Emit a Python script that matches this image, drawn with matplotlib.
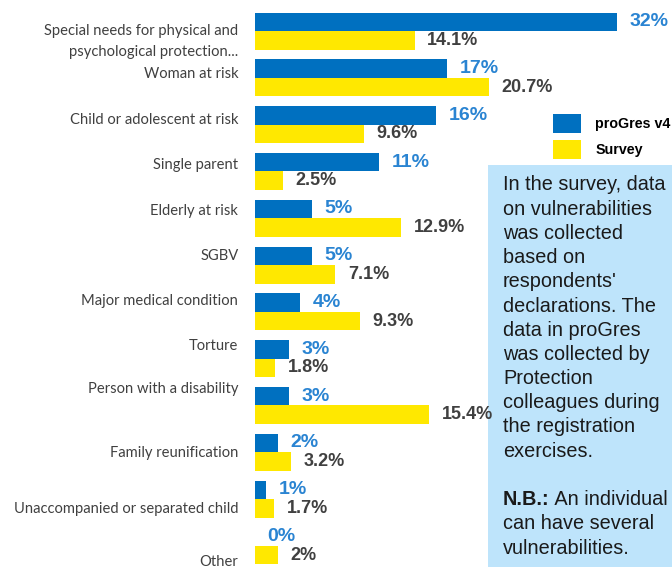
import numpy as np
import matplotlib
matplotlib.use("Agg")
import matplotlib.pyplot as plt
from matplotlib.patches import Rectangle

# Data
categories = [
    "Special needs for physical and\npsychological protection...",
    "Woman at risk",
    "Child or adolescent at risk",
    "Single parent",
    "Elderly at risk",
    "SGBV",
    "Major medical condition",
    "Torture",
    "Person with a disability",
    "Family reunification",
    "Unaccompanied or separated child",
    "Other",
]
progres = [32, 17, 16, 11, 5, 5, 4, 3, 3, 2, 1, 0]
survey = [14.1, 20.7, 9.6, 2.5, 12.9, 7.1, 9.3, 1.8, 15.4, 3.2, 1.7, 2]
progres_labels = ["32%", "17%", "16%", "11%", "5%", "5%", "4%", "3%", "3%", "2%", "1%", "0%"]
survey_labels = ["14.1%", "20.7%", "9.6%", "2.5%", "12.9%", "7.1%", "9.3%", "1.8%",
                 "15.4%", "3.2%", "1.7%", "2%"]

note_lines = [
    "In the survey, data",
    "on vulnerabilities",
    "was collected",
    "based on",
    "respondents'",
    "declarations. The",
    "data in proGres",
    "was collected by",
    "Protection",
    "colleagues during",
    "the registration",
    "exercises.",
]
note_tail = ["can have several", "vulnerabilities."]

blue = "#0070C0"
yellow = "#FFE800"
blue_text = "#2A84D2"
grey_text = "#404040"
note_color = "#1A1A1A"

W, H = 672, 567
fig = plt.figure(figsize=(W / 100, H / 100), dpi=100)

# light blue note box on the right
fig.patches.append(Rectangle((488 / W, 0), 1, (H - 165) / H, transform=fig.transFigure,
                             facecolor="#BEE4FB", edgecolor="none", zorder=0))

ax = fig.add_axes([255 / W, 0, (W - 255) / W, 1], zorder=1)
ax.patch.set_alpha(0)
step = 46.8
y = np.arange(len(categories))
h = 18.5 / step

ax.barh(y - h / 2, progres, height=h, color=blue, label="proGres v4")
ax.barh(y + h / 2, survey, height=h, color=yellow, label="Survey")

for i in range(len(categories)):
    ax.annotate(progres_labels[i], (progres[i], y[i] - h / 2), xytext=(9, 0),
                textcoords="offset points", va="center", ha="left",
                fontsize=14, fontweight="bold", color=blue_text,
                family="Liberation Sans")
    ax.annotate(survey_labels[i], (survey[i], y[i] + h / 2), xytext=(9, 0),
                textcoords="offset points", va="center", ha="left",
                fontsize=13, fontweight="bold", color=grey_text,
                family="Liberation Sans")

ax.set_xlim(0, 32 * (W - 255) / 362)
ax.set_ylim((H - 31) / step, -31 / step)

# category labels sit slightly off the bar groups in the original
label_px = [37, 73, 118, 163, 209, 255, 300, 344, 388, 451, 507, 560]
ax.set_yticks([(p - 31) / step for p in label_px])
ax.set_yticklabels(categories, fontsize=10.6, color=grey_text, family="Lato",
                   linespacing=1.55)
ax.tick_params(axis="y", length=0, pad=12)
ax.set_xticks([])
for s in ax.spines.values():
    s.set_visible(False)

ax.legend(loc="upper left", bbox_to_anchor=(553 / W, 1 - 114 / H),
          bbox_transform=fig.transFigure, frameon=False, borderpad=0, borderaxespad=0,
          prop={"family": "Liberation Sans", "weight": "bold", "size": 10.3},
          handlelength=1.95, handleheight=1.64, handletextpad=1.0, labelspacing=0.52)

# note text
fs = 14.3
for i, line in enumerate(note_lines):
    fig.text(503 / W, 1 - (185 + 24.2 * i) / H, line, fontsize=fs,
             family="Liberation Sans", color=note_color, va="center", zorder=2)
yb = 185 + 24.2 * 13
nb = fig.text(503 / W, 1 - yb / H, "N.B.:", fontsize=fs, fontweight="bold",
              family="Liberation Sans", color=note_color, va="center", zorder=2)
fig.canvas.draw()
bb = nb.get_window_extent()
fig.text(bb.x1 / W, 1 - yb / H, " An individual", fontsize=fs,
         family="Liberation Sans", color=note_color, va="center", zorder=2)
for i, line in enumerate(note_tail):
    fig.text(503 / W, 1 - (yb + 24.2 * (i + 1)) / H, line, fontsize=fs,
             family="Liberation Sans", color=note_color, va="center", zorder=2)

fig.savefig("out.png", dpi=100)
